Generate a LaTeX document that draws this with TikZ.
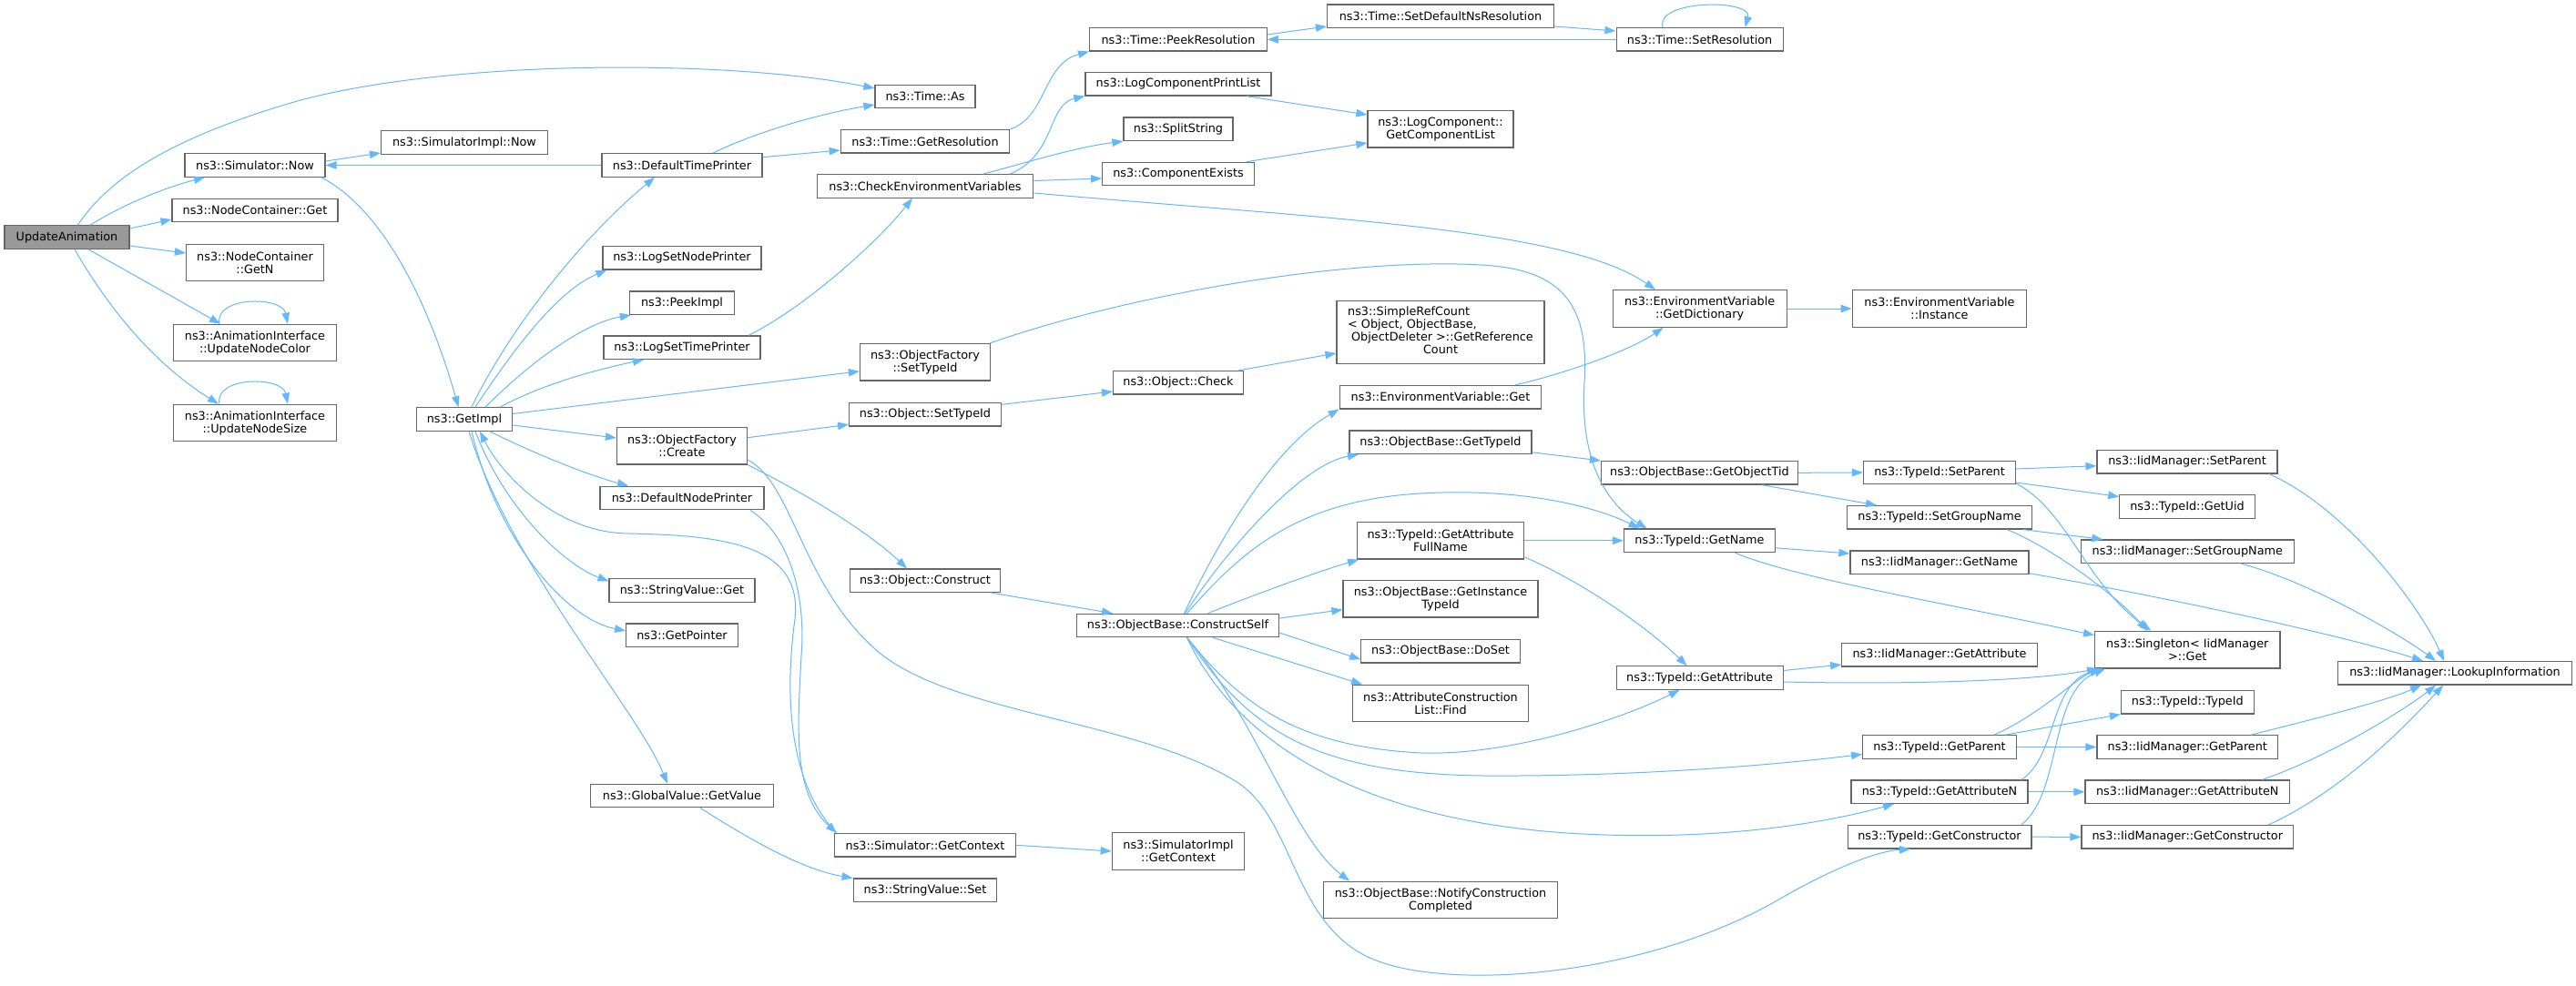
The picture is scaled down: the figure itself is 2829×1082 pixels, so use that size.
\documentclass[tikz,border=0pt]{standalone}
\usepackage{fontspec}
\setmainfont{DejaVu Sans}
\usetikzlibrary{arrows.meta}
\definecolor{edgec}{HTML}{63B8FF}
\definecolor{bordc}{HTML}{666666}
\definecolor{rootc}{HTML}{999999}
\begin{document}
\begin{tikzpicture}[x=1pt,y=-1pt,font=\fontsize{12.8}{14}\selectfont,
  box/.style={draw=bordc,line width=1.2pt,fill=white,inner sep=0pt,align=center,minimum height=25.5pt},
  boxb/.style={box,minimum height=40.5pt},
  conn/.style={draw=edgec,line width=1pt,-{Triangle[length=12pt,width=8.5pt]}}]
\useasboundingbox (0,0) rectangle (2829,1082);
\fill[white] (0,0) rectangle (2829,1082);
% column 1-3
\node[box,minimum width=137pt,fill=rootc] (ua) at (73.5,260.5) {UpdateAnimation};
\node[box,minimum width=154pt] (snow) at (280,181.5) {ns3::Simulator::Now};
\node[box,minimum width=182pt] (ncget) at (280,231) {ns3::NodeContainer::Get};
\node[boxb,minimum width=151pt] (ncgetn) at (280,288.5) {ns3::NodeContainer\\::GetN};
\node[boxb,minimum width=179pt] (unc) at (280,376.5) {ns3::AnimationInterface\\::UpdateNodeColor};
\node[boxb,minimum width=179pt] (uns) at (280,464.5) {ns3::AnimationInterface\\::UpdateNodeSize};
\node[box,minimum width=183pt] (sinow) at (510,156.5) {ns3::SimulatorImpl::Now};
\node[box,minimum width=105pt] (getimpl) at (510,460.5) {ns3::GetImpl};
% column 4
\node[box,minimum width=176pt] (dtp) at (749,181.5) {ns3::DefaultTimePrinter};
\node[box,minimum width=174pt] (lsnp) at (749,283.3) {ns3::LogSetNodePrinter};
\node[box,minimum width=115pt] (peek) at (749,332.7) {ns3::PeekImpl};
\node[box,minimum width=172pt] (lstp) at (749,381.7) {ns3::LogSetTimePrinter};
\node[boxb,minimum width=143pt] (ofc) at (749,489.7) {ns3::ObjectFactory\\::Create};
\node[box,minimum width=180pt] (dnp) at (749,547) {ns3::DefaultNodePrinter};
\node[box,minimum width=160pt] (svget) at (749,648.5) {ns3::StringValue::Get};
\node[box,minimum width=122.6pt] (gptr) at (749,697.8) {ns3::GetPointer};
\node[box,minimum width=201pt] (gvgv) at (749,874) {ns3::GlobalValue::GetValue};
% column 5
\node[box,minimum width=110pt] (tas) at (1016,106) {ns3::Time::As};
\node[box,minimum width=185.5pt] (tgr) at (1016,155.3) {ns3::Time::GetResolution};
\node[box,minimum width=237.6pt] (cev) at (1016,204.5) {ns3::CheckEnvironmentVariables};
\node[boxb,minimum width=143pt] (ofst) at (1016,397.8) {ns3::ObjectFactory\\::SetTypeId};
\node[box,minimum width=166.7pt] (ost) at (1016,455.3) {ns3::Object::SetTypeId};
\node[box,minimum width=165pt] (oc) at (1016,637.8) {ns3::Object::Construct};
\node[box,minimum width=199pt] (sgc) at (1016,928.3) {ns3::Simulator::GetContext};
\node[box,minimum width=157.5pt] (svset) at (1016,977.8) {ns3::StringValue::Set};
% column 6
\node[box,minimum width=194.7pt] (tpr) at (1294,43.3) {ns3::Time::PeekResolution};
\node[box,minimum width=204pt] (lcpl) at (1294,92.3) {ns3::LogComponentPrintList};
\node[box,minimum width=120pt] (split) at (1294,141.8) {ns3::SplitString};
\node[box,minimum width=166.7pt] (cexists) at (1294,191) {ns3::ComponentExists};
\node[box,minimum width=142.8pt] (ocheck) at (1294,420.3) {ns3::Object::Check};
\node[box,minimum width=222pt] (cself) at (1293.5,687) {ns3::ObjectBase::ConstructSelf};
\node[boxb,minimum width=145.5pt] (sigc) at (1294,935) {ns3::SimulatorImpl\\::GetContext};
% column 7
\node[box,minimum width=249pt] (tsdnr) at (1582,17.7) {ns3::Time::SetDefaultNsResolution};
\node[boxb,minimum width=160pt] (lcgcl) at (1582,141.8) {ns3::LogComponent::\\GetComponentList};
\node[box,minimum width=228pt,minimum height=69pt] (src) at (1582,364.7) {\begin{tabular}{@{}l@{}}ns3::SimpleRefCount\\{}< Object, ObjectBase,\\\hspace*{4pt}ObjectDeleter >::GetReference\\\multicolumn{1}{@{}c@{}}{Count}\end{tabular}};
\node[box,minimum width=221.5pt] (evget) at (1582,436.2) {ns3::EnvironmentVariable::Get};
\node[box,minimum width=200pt] (obgt) at (1582,485.8) {ns3::ObjectBase::GetTypeId};
\node[boxb,minimum width=183pt] (gafn) at (1582,593.8) {ns3::TypeId::GetAttribute\\FullName};
\node[boxb,minimum width=214pt] (obgit) at (1582,657.7) {ns3::ObjectBase::GetInstance\\TypeId};
\node[box,minimum width=174.5pt] (doset) at (1582,715.3) {ns3::ObjectBase::DoSet};
\node[boxb,minimum width=192.4pt] (aclf) at (1582,772.5) {ns3::AttributeConstruction\\List::Find};
\node[boxb,minimum width=257.6pt] (ncc) at (1582,988.5) {ns3::ObjectBase::NotifyConstruction\\Completed};
% column 8
\node[box,minimum width=183pt] (tsr) at (1866.6,43.3) {ns3::Time::SetResolution};
\node[boxb,minimum width=191pt] (evgd) at (1866.6,339) {ns3::EnvironmentVariable\\::GetDictionary};
\node[box,minimum width=216pt] (got) at (1866.5,519.3) {ns3::ObjectBase::GetObjectTid};
\node[box,minimum width=166pt] (tgn) at (1866.5,593.8) {ns3::TypeId::GetName};
\node[box,minimum width=183pt] (tga) at (1866.6,744.5) {ns3::TypeId::GetAttribute};
% column 9
\node[boxb,minimum width=191.7pt] (evi) at (2130,339) {ns3::EnvironmentVariable\\::Instance};
\node[box,minimum width=167pt] (tsp) at (2130,519) {ns3::TypeId::SetParent};
\node[box,minimum width=203pt] (tsgn) at (2130,568.3) {ns3::TypeId::SetGroupName};
\node[box,minimum width=196pt] (imgn) at (2130,617.7) {ns3::IidManager::GetName};
\node[box,minimum width=214.5pt] (imga) at (2130,719.2) {ns3::IidManager::GetAttribute};
\node[box,minimum width=168.6pt] (tgp) at (2130,820.5) {ns3::TypeId::GetParent};
\node[box,minimum width=194pt] (tgan) at (2130,869.8) {ns3::TypeId::GetAttributeN};
\node[box,minimum width=201.8pt] (tgc) at (2130,919.2) {ns3::TypeId::GetConstructor};
% column 10
\node[box,minimum width=198pt] (imsp) at (2402,507.2) {ns3::IidManager::SetParent};
\node[box,minimum width=148.3pt] (tgu) at (2402,556.5) {ns3::TypeId::GetUid};
\node[box,minimum width=233.8pt] (imsgn) at (2402.3,605.8) {ns3::IidManager::SetGroupName};
\node[boxb,minimum width=203.5pt] (sing) at (2402.3,713.7) {ns3::Singleton< IidManager\\>::Get};
\node[box,minimum width=145.6pt] (ttid) at (2402.3,771.3) {ns3::TypeId::TypeId};
\node[box,minimum width=198.8pt] (imgp) at (2402.3,820.5) {ns3::IidManager::GetParent};
\node[box,minimum width=224.6pt] (imgan) at (2402.3,869.8) {ns3::IidManager::GetAttributeN};
\node[box,minimum width=232.8pt] (imgc) at (2402.3,919.3) {ns3::IidManager::GetConstructor};
% column 11
\node[box,minimum width=257.6pt] (imli) at (2696,739.3) {ns3::IidManager::LookupInformation};

% ---- edges ----
\draw[conn] ([xshift=12pt]ua.north) .. controls (120,195) and (190,150) .. (330,110) .. controls (500,65) and (800,65) .. ([yshift=9pt]tas.west);
\draw[conn] ([xshift=25.5pt]ua.north) .. controls (140,222) and (185,205) .. ([xshift=-55pt]snow.south);
\draw[conn] ([yshift=9.5pt]ua.east) -- ([yshift=-10pt]ncget.west);
\draw[conn] ([yshift=-9.5pt]ua.east) -- ([yshift=10.5pt]ncgetn.west);
\draw[conn] ([xshift=23.5pt]ua.south) -- ([xshift=-38pt]unc.north);
\draw[conn] ([xshift=8.5pt]ua.south) .. controls (120,340) and (170,400) .. ([xshift=-40pt]uns.north);
\draw[conn] ([xshift=-39pt]unc.north) .. controls (235,325) and (310,325) .. ([xshift=36pt]unc.north);
\draw[conn] ([xshift=-39pt]uns.north) .. controls (235,413) and (310,413) .. ([xshift=36pt]uns.north);
\draw[conn] ([yshift=4.5pt]snow.east) -- ([yshift=-11.5pt]sinow.west);
\draw[conn] ([xshift=73pt]snow.south) .. controls (420,230) and (470,330) .. ([xshift=-6.5pt]getimpl.north);
\draw[conn] (dtp.west) -- (snow.east);
\draw[conn] ([xshift=34pt]dtp.north) .. controls (830,145) and (900,125) .. ([yshift=-9pt]tas.west);
\draw[conn] ([yshift=8.8pt]dtp.east) -- ([yshift=-9.7pt]tgr.west);
\draw[conn] (tgr.north east) .. controls (1150,128) and (1145,70) .. (tpr.south west);
\draw[conn] ([xshift=93pt]cev.north) .. controls (1160,170) and (1150,115) .. (lcpl.south west);
\draw[conn] ([xshift=63.5pt]cev.north) .. controls (1130,178) and (1180,162) .. (split.south west);
\draw[conn] ([yshift=6pt]cev.east) -- ([yshift=-5pt]cexists.west);
\draw[conn] ([yshift=-7.5pt]cev.east) .. controls (1450,240) and (1720,250) .. ([xshift=-48.6pt]evgd.north);
\draw[conn] ([xshift=75pt]lcpl.south) -- ([yshift=15.8pt]lcgcl.west);
\draw[conn] ([xshift=75pt]cexists.north) -- ([yshift=-15.2pt]lcgcl.west);
\draw[conn] ([yshift=5.3pt]tpr.east) -- ([yshift=-11.3pt]tsdnr.west);
\draw[conn] ([yshift=-11.3pt]tsdnr.east) -- ([yshift=9.3pt]tsr.west);
\draw[conn] (tsr.west) -- (tpr.east);
\draw[conn] ([xshift=-40.6pt]tsr.north) .. controls (1818,-1) and (1925,-1) .. ([xshift=50pt]tsr.north);
\draw[conn] (evgd.east) -- (evi.west);
% GetImpl
\draw[conn] ([xshift=8pt]getimpl.north) .. controls (560,360) and (640,260) .. ([xshift=-30pt]dtp.south);
\draw[conn] ([xshift=12pt]getimpl.north) .. controls (560,390) and (610,320) .. ([xshift=5pt]lsnp.south west);
\draw[conn] ([xshift=23pt]getimpl.north) .. controls (580,400) and (640,355) .. ([xshift=2pt]peek.south west);
\draw[conn] ([xshift=39pt]getimpl.north) .. controls (600,420) and (660,405) .. ([xshift=-42pt]lstp.south);
\draw[conn] ([yshift=6pt]getimpl.east) -- ([yshift=-10pt]ofst.west);
\draw[conn] ([yshift=-6.5pt]getimpl.east) -- ([yshift=8.7pt]ofc.west);
\draw[conn] ([xshift=28pt]getimpl.south) .. controls (580,495) and (640,520) .. ([xshift=-59pt]dnp.north);
\draw[conn] ([xshift=12pt]getimpl.south) .. controls (555,560) and (620,620) .. ([yshift=10pt]svget.west);
\draw[conn] ([xshift=8pt]getimpl.south) .. controls (545,590) and (620,680) .. ([yshift=5pt]gptr.west);
\draw[conn] ([xshift=5pt]getimpl.south) .. controls (560,620) and (700,780) .. ([xshift=-16pt]gvgv.north);
\draw[conn] ([xshift=3pt]sgc.north west) .. controls (865,860) and (862,760) .. (873,680) .. controls (882,600) and (800,588) .. (690,586) .. controls (610,585) and (550,520) .. ([xshift=17pt]getimpl.south);
\draw[conn] ([xshift=75pt]dnp.south) .. controls (870,590) and (885,660) .. (880,720) .. controls (876,800) and (870,870) .. ([xshift=3pt]sgc.north west);
\draw[conn] ([yshift=-15.3pt]ofc.east) .. controls (870,530) and (880,640) .. (960,712) .. controls (1040,785) and (1250,790) .. (1360,860) .. controls (1420,900) and (1420,1010) .. (1500,1050) .. controls (1580,1090) and (1800,1075) .. (1950,990) .. controls (2010,955) and (2060,935) .. ([xshift=-32pt]tgc.south);
\draw[conn] ([yshift=9pt]ofc.east) -- ([yshift=-11pt]ost.west);
\draw[conn] (ofc.south east) .. controls (900,550) and (960,590) .. ([xshift=-20pt]oc.north);
\draw[conn] ([xshift=73pt]lstp.north) .. controls (880,340) and (960,270) .. ([xshift=-14pt]cev.south);
\draw[conn] ([xshift=71pt]ofst.north) .. controls (1250,320) and (1500,280) .. (1640,292) .. controls (1720,300) and (1745,340) .. (1740,420) .. controls (1735,500) and (1760,550) .. ([xshift=-58pt]tgn.north);
\draw[conn] ([yshift=11pt]ost.east) -- ([yshift=-9.7pt]ocheck.west);
\draw[conn] ([xshift=65.6pt]ocheck.north) -- ([yshift=-23.3pt]src.west);
\draw[conn] ([xshift=73pt]oc.south) -- ([xshift=-71.5pt]cself.north);
% ConstructSelf
\draw[conn] ([xshift=7pt]cself.north) .. controls (1340,590) and (1400,490) .. (evget.south west);
\draw[conn] ([xshift=8pt]cself.north) .. controls (1350,600) and (1430,510) .. ([xshift=-90pt]obgt.south);
\draw[conn] ([xshift=10pt]cself.north) .. controls (1360,610) and (1420,550) .. (1560,542) .. controls (1680,535) and (1760,560) .. ([xshift=-66pt]tgn.north);
\draw[conn] ([xshift=33pt]cself.north) .. controls (1360,660) and (1440,630) .. ([xshift=-90pt]gafn.south);
\draw[conn] ([yshift=8pt]cself.east) -- ([yshift=-12pt]obgit.west);
\draw[conn] ([yshift=-8pt]cself.east) -- ([yshift=-9pt]doset.west);
\draw[conn] ([xshift=38.5pt]cself.south) -- ([xshift=-86pt]aclf.north);
\draw[conn] ([xshift=10pt]cself.south) .. controls (1360,770) and (1420,820) .. (1561,827) .. controls (1660,830) and (1780,790) .. ([xshift=-22pt]tga.south);
\draw[conn] ([xshift=10pt]cself.south) .. controls (1370,800) and (1440,850) .. (1630,852) .. controls (1800,853) and (1950,840) .. ([yshift=-8pt]tgp.west);
\draw[conn] ([xshift=10pt]cself.south) .. controls (1360,820) and (1500,900) .. (1721,915) .. controls (1880,925) and (2000,905) .. ([xshift=-50pt]tgan.south);
\draw[conn] ([xshift=10pt]cself.south) .. controls (1380,790) and (1420,920) .. ([xshift=-100pt]ncc.north);
% others
\draw[conn] ([yshift=-11pt]obgt.east) -- (got.north west);
\draw[conn] (got.east) -- (tsp.west);
\draw[conn] ([xshift=68.5pt]got.south) -- ([xshift=-69pt]tsgn.north);
\draw[conn] (gafn.east) -- (tgn.west);
\draw[conn] ([yshift=-18pt]gafn.east) .. controls (1740,640) and (1810,690) .. ([xshift=-14pt]tga.north);
\draw[conn] ([xshift=82pt]evget.north) .. controls (1720,410) and (1790,385) .. ([xshift=-40pt]evgd.south);
\draw[conn] ([yshift=-8pt]tgn.east) -- ([yshift=9.7pt]imgn.west);
\draw[conn] ([xshift=39pt]tgn.south) .. controls (1970,635) and (2150,665) .. ([yshift=16pt]sing.west);
\draw[conn] ([yshift=4pt]tsp.east) -- ([yshift=-4.5pt]imsp.west);
\draw[conn] ([yshift=-11pt]tsp.east) -- ([yshift=11pt]tgu.west);
\draw[conn] ([yshift=-12pt]tsp.east) .. controls (2270,560) and (2290,640) .. ([xshift=-40pt]sing.north);
\draw[conn] ([xshift=92pt]tsgn.south) -- ([xshift=-93pt]imsgn.north);
\draw[conn] ([xshift=74pt]tsgn.south) .. controls (2250,600) and (2320,650) .. ([xshift=-44pt]sing.north);
\draw[conn] ([yshift=-12pt]imgn.east) .. controls (2400,660) and (2580,700) .. ([xshift=-35pt]imli.north);
\draw[conn] ([xshift=90pt]imsp.south) .. controls (2580,560) and (2660,670) .. ([xshift=-12pt]imli.north);
\draw[conn] ([xshift=59pt]imsgn.south) .. controls (2540,640) and (2640,700) .. ([xshift=-21pt]imli.north);
\draw[conn] ([yshift=8pt]tga.east) -- ([yshift=-10.8pt]imga.west);
\draw[conn] ([yshift=-4.5pt]tga.east) .. controls (2100,752) and (2230,748) .. ([xshift=4pt]sing.south west);
\draw[conn] ([xshift=60pt]tgp.north) .. controls (2240,785) and (2280,745) .. ([xshift=7pt]sing.south west);
\draw[conn] ([xshift=72pt]tgp.north) -- (ttid.south west);
\draw[conn] (tgp.east) -- (imgp.west);
\draw[conn] ([xshift=90pt]tgan.north) .. controls (2260,830) and (2250,750) .. ([xshift=9pt]sing.south west);
\draw[conn] (tgan.east) -- (imgan.west);
\draw[conn] ([xshift=90pt]tgc.north) .. controls (2265,870) and (2250,760) .. ([xshift=12pt]sing.south west);
\draw[conn] (tgc.east) -- (imgc.west);
\draw[conn] ([xshift=70pt]imgp.north) .. controls (2540,790) and (2620,770) .. ([xshift=-37pt]imli.south);
\draw[conn] ([xshift=82pt]imgan.north) .. controls (2560,830) and (2640,780) .. ([xshift=-21pt]imli.south);
\draw[conn] ([xshift=89pt]imgc.north) .. controls (2570,870) and (2640,800) .. ([xshift=-13pt]imli.south);
\draw[conn] (sgc.east) -- (sigc.west);
\draw[conn] ([xshift=20pt]gvgv.south) .. controls (820,920) and (880,955) .. (svset.north west);
\end{tikzpicture}
\end{document}
